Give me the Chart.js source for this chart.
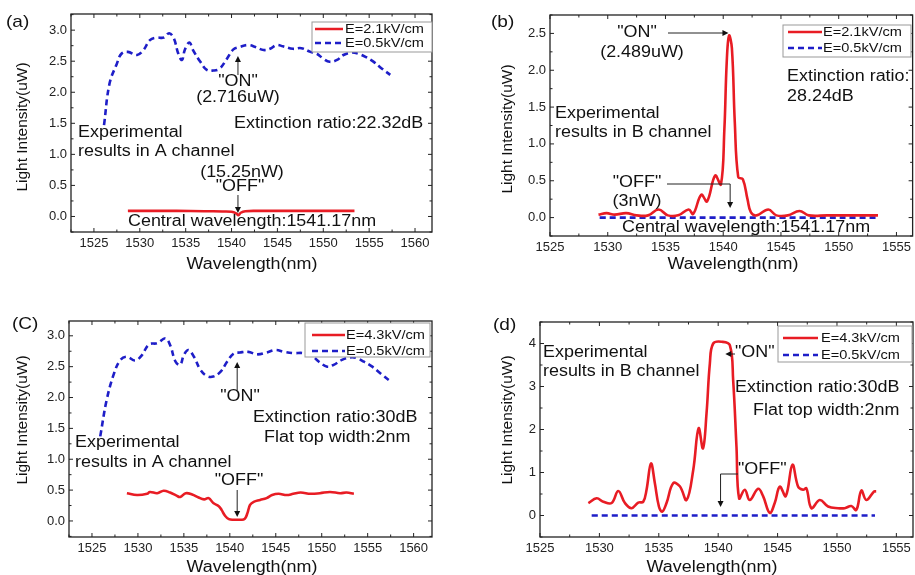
<!DOCTYPE html>
<html>
<head>
<meta charset="utf-8">
<script src="https://cdn.jsdelivr.net/npm/chart.js@4.4.1/dist/chart.umd.min.js"></script>
<style>
  body { margin: 0; background: #fff; overflow: hidden; }
  #wrap { position: relative; width: 915px; height: 575px; background: #fff; }
  .cell { position: absolute; }
</style>
</head>
<body>
<div id="wrap">
  <div class="cell" style="left:0;top:0;width:455px;height:290px"><canvas id="chartA"></canvas></div>
  <div class="cell" style="left:455px;top:0;width:460px;height:290px"><canvas id="chartB"></canvas></div>
  <div class="cell" style="left:0;top:290px;width:455px;height:285px"><canvas id="chartC"></canvas></div>
  <div class="cell" style="left:455px;top:290px;width:460px;height:285px"><canvas id="chartD"></canvas></div>
</div>
<script>
var FONT = '"Liberation Sans", Arial, sans-serif';
var RED = 'rgb(232,28,36)';
var BLUE = 'rgb(30,30,200)';

// tick labels
var xTicksAC = [1525, 1530, 1535, 1540, 1545, 1550, 1555, 1560];
var xTicksBD = [1525, 1530, 1535, 1540, 1545, 1550, 1555];
var yTicksABC = [0, 0.5, 1, 1.5, 2, 2.5, 3];
var yTicksD = [0, 1, 2, 3, 4];

// (a) A channel, E=2.1kV/cm vs E=0.5kV/cm
var aLegend = ['E=2.1kV/cm', 'E=0.5kV/cm'];
var aBlueX = [1526.1, 1526.7, 1527.5, 1528.0, 1528.7, 1529.7, 1530.4, 1531.1, 1531.8, 1532.6, 1533.2, 1533.7, 1534.2, 1534.6, 1534.9, 1535.4, 1535.8, 1536.6, 1537.3, 1538.0, 1538.7, 1539.5, 1540.2, 1540.9, 1541.8, 1542.6, 1543.5, 1544.2, 1544.9, 1545.6, 1546.7, 1547.6, 1548.6, 1549.3, 1550.0, 1550.7, 1551.5, 1552.2, 1553.1, 1553.8, 1554.6, 1555.5, 1556.4, 1557.3];
var aBlueY = [1.47, 2.14, 2.46, 2.62, 2.65, 2.60, 2.68, 2.84, 2.88, 2.88, 2.95, 2.87, 2.62, 2.52, 2.68, 2.80, 2.68, 2.49, 2.36, 2.35, 2.38, 2.54, 2.69, 2.73, 2.76, 2.73, 2.68, 2.70, 2.76, 2.74, 2.70, 2.71, 2.65, 2.62, 2.54, 2.49, 2.52, 2.60, 2.64, 2.62, 2.57, 2.49, 2.38, 2.28];
var aRedX = [1528.7, 1531, 1534, 1537, 1539, 1540.0, 1540.5, 1540.75, 1541.0, 1541.5, 1543, 1546, 1549, 1553.4];
var aRedY = [0.09, 0.09, 0.09, 0.085, 0.08, 0.075, 0.05, 0.02, 0.06, 0.085, 0.09, 0.09, 0.09, 0.09];

// (b) B channel, E=2.1kV/cm vs E=0.5kV/cm
var bLegend = ['E=2.1kV/cm', 'E=0.5kV/cm'];
var bRedX = [1529.2, 1529.9, 1530.6, 1531.6, 1532.5, 1533.5, 1534.4, 1535.2, 1536.1, 1537.0, 1537.4, 1538.1, 1538.6, 1539.3, 1539.8, 1540.1, 1540.3, 1540.5, 1540.75, 1541.0, 1541.3, 1541.7, 1542.1, 1542.4, 1542.9, 1543.9, 1544.6, 1545.6, 1546.6, 1547.4, 1549, 1551, 1553.4];
var bRedY = [0.04, 0.06, 0.04, 0.06, 0.03, 0.03, 0.11, 0.03, 0.03, 0.11, 0.05, 0.31, 0.22, 0.57, 0.45, 1.2, 2.1, 2.47, 2.3, 1.3, 0.55, 0.52, 0.25, 0.07, 0.03, 0.11, 0.03, 0.03, 0.09, 0.03, 0.03, 0.03, 0.03];
var bBlueX = [1529.3, 1535, 1541, 1547, 1553.4];
var bBlueY = [0, 0, 0, 0, 0];

// (c) A channel, E=4.3kV/cm vs E=0.5kV/cm
var cLegend = ['E=4.3kV/cm', 'E=0.5kV/cm'];
var cBlueX = [1525.9, 1526.6, 1527.4, 1528.1, 1528.8, 1529.7, 1530.4, 1531.2, 1532.1, 1533.0, 1533.5, 1534.1, 1534.6, 1535.0, 1535.5, 1536.1, 1536.8, 1537.5, 1538.2, 1539.0, 1539.7, 1540.4, 1541.1, 1542.0, 1543.0, 1544.0, 1545.0, 1545.9, 1546.9, 1548.0, 1548.9, 1549.7, 1550.6, 1551.3, 1552.2, 1553.1, 1553.8, 1554.6, 1555.5, 1556.4, 1557.5];
var cBlueY = [1.37, 1.96, 2.39, 2.61, 2.66, 2.60, 2.68, 2.86, 2.88, 2.96, 2.85, 2.58, 2.53, 2.69, 2.77, 2.66, 2.45, 2.35, 2.34, 2.42, 2.58, 2.71, 2.73, 2.74, 2.70, 2.73, 2.77, 2.74, 2.72, 2.72, 2.68, 2.58, 2.50, 2.53, 2.61, 2.65, 2.64, 2.58, 2.50, 2.39, 2.26];
var cRedX = [1528.8, 1529.9, 1531.0, 1531.3, 1532.1, 1532.8, 1533.5, 1534.2, 1534.6, 1535.2, 1535.9, 1536.6, 1537.2, 1537.7, 1538.2, 1538.8, 1539.1, 1539.5, 1539.9, 1540.4, 1541.1, 1541.6, 1541.9, 1542.2, 1542.6, 1543.3, 1544.0, 1544.6, 1545.3, 1546.2, 1546.9, 1547.7, 1548.8, 1549.8, 1550.9, 1552.0, 1552.7, 1553.5];
var cRedY = [0.45, 0.42, 0.44, 0.47, 0.45, 0.49, 0.46, 0.41, 0.39, 0.45, 0.43, 0.38, 0.35, 0.37, 0.29, 0.24, 0.18, 0.08, 0.03, 0.02, 0.02, 0.03, 0.12, 0.26, 0.31, 0.34, 0.37, 0.42, 0.44, 0.42, 0.44, 0.46, 0.44, 0.45, 0.47, 0.45, 0.46, 0.44];

// (d) B channel, E=4.3kV/cm vs E=0.5kV/cm
var dLegend = ['E=4.3kV/cm', 'E=0.5kV/cm'];
var dRedX = [1529.07, 1529.77, 1530.33, 1531.03, 1531.59, 1532.15, 1532.71, 1533.27, 1533.69, 1533.97, 1534.34, 1534.67, 1535.01, 1535.29, 1535.65, 1536.21, 1536.77, 1537.34, 1537.9, 1538.35, 1538.72, 1539.02, 1539.3, 1539.58, 1540.3, 1540.98, 1541.26, 1541.54, 1541.76, 1542.24, 1542.66, 1543.36, 1543.78, 1544.34, 1544.76, 1545.19, 1545.69, 1546.25, 1546.73, 1547.15, 1547.43, 1547.85, 1548.55, 1549.25, 1550.09, 1550.65, 1551.21, 1551.63, 1552.05, 1552.47, 1553.12, 1553.3];
var dRedY = [0.29, 0.40, 0.32, 0.29, 0.57, 0.29, 0.17, 0.30, 0.32, 0.60, 1.21, 0.75, 0.21, 0.09, 0.29, 0.75, 0.68, 0.36, 1.06, 2.03, 1.56, 2.38, 3.54, 4.0, 4.04, 3.96, 3.15, 1.6, 0.40, 0.6, 0.36, 0.62, 0.45, 0.06, 0.29, 0.67, 0.45, 1.18, 0.67, 0.60, 0.63, 0.17, 0.36, 0.21, 0.17, 0.17, 0.22, 0.13, 0.58, 0.36, 0.56, 0.56];
var dBlueX = [1529.35, 1535, 1541, 1547, 1553.2];
var dBlueY = [0, 0, 0, 0, 0];

function pts(xs, ys) {
    return xs.map(function (x, i) { return { x: x, y: ys[i] }; });
}

function stretchText(ctx, s, x, y, size, align) {
    ctx.save();
    ctx.font = size + 'px ' + FONT;
    ctx.textAlign = align || 'left';
    ctx.textBaseline = 'middle';
    ctx.translate(x, y);
    ctx.scale(1.12, 1);
    ctx.fillText(s, 0, 0);
    ctx.restore();
}

function seg(ctx, x1, y1, x2, y2) {
    ctx.beginPath(); ctx.moveTo(x1, y1); ctx.lineTo(x2, y2); ctx.stroke();
}

function head(ctx, x, y, dir) {
    // dir: 'up', 'down', 'left', 'right'
    var L = 6, W = 3;
    ctx.beginPath();
    if (dir === 'up') { ctx.moveTo(x, y); ctx.lineTo(x - W, y + L); ctx.lineTo(x + W, y + L); }
    if (dir === 'down') { ctx.moveTo(x, y); ctx.lineTo(x - W, y - L); ctx.lineTo(x + W, y - L); }
    if (dir === 'left') { ctx.moveTo(x, y); ctx.lineTo(x + L, y - W); ctx.lineTo(x + L, y + W); }
    if (dir === 'right') { ctx.moveTo(x, y); ctx.lineTo(x - L, y - W); ctx.lineTo(x - L, y + W); }
    ctx.closePath(); ctx.fill();
}

function makePanel(id, p) {
    var deco = {
        id: 'deco',
        afterDraw: function (chart) {
            var ctx = chart.ctx, a = chart.chartArea, xs = chart.scales.x, ys = chart.scales.y;
            ctx.save();
            ctx.strokeStyle = '#222';
            ctx.fillStyle = '#111';
            ctx.lineWidth = 1.3;
            ctx.strokeRect(a.left, a.top, a.right - a.left, a.bottom - a.top);
            ctx.lineWidth = 1;
            // ticks pointing inward on all four sides
            var i, v, px, major, len;
            for (i = Math.ceil(xs.min / p.xMinor); i * p.xMinor <= xs.max; i++) {
                v = i * p.xMinor;
                px = xs.getPixelForValue(v);
                major = Math.abs(v / 5 - Math.round(v / 5)) < 1e-6;
                len = major ? 4 : 2.5;
                seg(ctx, px, a.bottom, px, a.bottom - len);
                seg(ctx, px, a.top, px, a.top + len);
            }
            for (i = Math.ceil(ys.min / p.yMinor); i * p.yMinor <= ys.max; i++) {
                v = i * p.yMinor;
                px = ys.getPixelForValue(v);
                major = Math.abs(v / p.yMajor - Math.round(v / p.yMajor)) < 1e-6;
                len = major ? 4 : 2.5;
                seg(ctx, a.left, px, a.left + len, px);
                seg(ctx, a.right, px, a.right - len, px);
            }

            // panel letter and axis titles
            stretchText(ctx, p.letter, p.letterPos[0], p.letterPos[1], 17, 'left');
            stretchText(ctx, 'Wavelength(nm)', p.xTitle[0], p.xTitle[1], 16, 'center');
            ctx.save();
            ctx.translate(p.yTitle[0], p.yTitle[1]);
            ctx.rotate(-Math.PI / 2);
            ctx.font = '15.5px ' + FONT;
            ctx.textAlign = 'center';
            ctx.textBaseline = 'middle';
            ctx.fillText('Light Intensity(uW)', 0, 0);
            ctx.restore();

            // annotations
            p.notes.forEach(function (n) {
                stretchText(ctx, n[0], n[1], n[2], 16, n[3] || 'left');
            });
            ctx.lineWidth = 1;
            p.arrows.forEach(function (r) {
                var tx = xs.getPixelForValue(r.nm);
                if (r.type === 'v') {
                    seg(ctx, tx, r.y1, tx, r.y2 + (r.y2 < r.y1 ? 4 : -4));
                    head(ctx, tx, r.y2, r.y2 < r.y1 ? 'up' : 'down');
                } else if (r.type === 'h') {
                    var dir = tx < r.x0 ? 'left' : 'right';
                    seg(ctx, r.x0, r.y, tx + (dir === 'left' ? 4 : -4), r.y);
                    head(ctx, tx, r.y, dir);
                } else {
                    seg(ctx, r.x0, r.y0, tx, r.y0);
                    seg(ctx, tx, r.y0, tx, r.y2 - 4);
                    head(ctx, tx, r.y2, 'down');
                }
            });

            // legend box
            var L = p.legend;
            ctx.fillStyle = '#fff';
            ctx.fillRect(L.box[0], L.box[1], L.box[2] - L.box[0], L.box[3] - L.box[1]);
            ctx.strokeStyle = '#999';
            ctx.strokeRect(L.box[0], L.box[1], L.box[2] - L.box[0], L.box[3] - L.box[1]);
            ctx.lineWidth = 2.5;
            ctx.strokeStyle = RED;
            seg(ctx, L.line[0], L.rows[0], L.line[1], L.rows[0]);
            ctx.strokeStyle = BLUE;
            ctx.lineWidth = 2.5;
            ctx.setLineDash([6, 4]);
            seg(ctx, L.line[0], L.rows[1], L.line[1], L.rows[1]);
            ctx.setLineDash([]);
            ctx.fillStyle = '#111';
            stretchText(ctx, L.labels[0], L.textX, L.rows[0], 13, 'left');
            stretchText(ctx, L.labels[1], L.textX, L.rows[1], 13, 'left');
            ctx.restore();
        }
    };

    return new Chart(document.getElementById(id), {
        type: 'line',
        data: {
            datasets: [
                {
                    label: p.legend.labels[0],
                    data: pts(p.redX, p.redY),
                    borderColor: RED,
                    borderWidth: 2.6,
                    pointRadius: 0,
                    tension: 0.4,
                    fill: false
                },
                {
                    label: p.legend.labels[1],
                    data: pts(p.blueX, p.blueY),
                    borderColor: BLUE,
                    borderWidth: 2.6,
                    borderDash: [6, 4],
                    pointRadius: 0,
                    tension: 0.4,
                    fill: false
                }
            ]
        },
        options: {
            responsive: true,
            maintainAspectRatio: false,
            animation: false,
            layout: { padding: { left: 0, bottom: 0, top: p.area.top, right: p.area.right } },
            plugins: { legend: { display: false }, tooltip: { enabled: false } },
            scales: {
                x: {
                    type: 'linear',
                    min: p.xMin, max: p.xMax,
                    afterBuildTicks: function (s) { s.ticks = p.xTicks.map(function (v) { return { value: v }; }); },
                    afterFit: function (s) { s.height = p.area.xH; },
                    ticks: { font: { family: FONT, size: 13 }, color: '#222', padding: 4, callback: function (v) { return String(v); } },
                    grid: { display: false, drawTicks: false },
                    border: { display: false }
                },
                y: {
                    min: p.yMin, max: p.yMax,
                    afterBuildTicks: function (s) { s.ticks = p.yTicks.map(function (v) { return { value: v }; }); },
                    afterFit: function (s) { s.width = p.area.yW; },
                    ticks: { font: { family: FONT, size: 13 }, color: '#222', padding: 4, callback: function (v) { return p.yDigits ? v.toFixed(p.yDigits) : String(v); } },
                    grid: { display: false, drawTicks: false },
                    border: { display: false }
                }
            }
        },
        plugins: [deco]
    });
}

makePanel('chartA', {
    redX: aRedX, redY: aRedY, blueX: aBlueX, blueY: aBlueY,
    xMin: 1522.5, xMax: 1561.85, yMin: -0.25, yMax: 3.26,
    xTicks: xTicksAC, yTicks: yTicksABC, yDigits: 1,
    xMinor: 2.5, yMinor: 0.25, yMajor: 0.5,
    area: { top: 14, right: 23, yW: 71, xH: 58 },
    letter: '(a)', letterPos: [6, 22], xTitle: [252, 265], yTitle: [23, 127],
    notes: [
        ['"ON"', 238, 82, 'center'],
        ['(2.716uW)', 238, 98, 'center'],
        ['Extinction ratio:22.32dB', 234, 124],
        ['Experimental', 78, 133],
        ['results in A channel', 78, 152],
        ['(15.25nW)', 242, 173, 'center'],
        ['"OFF"', 240, 187, 'center'],
        ['Central wavelength:1541.17nm', 128, 222]
    ],
    arrows: [
        { type: 'v', nm: 1540.7, y1: 75, y2: 56 },
        { type: 'v', nm: 1540.7, y1: 195, y2: 213 }
    ],
    legend: { box: [312, 22, 432, 52], rows: [29, 43], line: [315, 343], textX: 345, labels: aLegend }
});

makePanel('chartB', {
    redX: bRedX, redY: bRedY, blueX: bBlueX, blueY: bBlueY,
    xMin: 1525, xMax: 1556.4, yMin: -0.25, yMax: 2.75,
    xTicks: xTicksBD, yTicks: yTicksABC.slice(0, 6), yDigits: 1,
    xMinor: 2.5, yMinor: 0.25, yMajor: 0.5,
    area: { top: 15, right: 2, yW: 95, xH: 54 },
    letter: '(b)', letterPos: [36, 22], xTitle: [278, 265], yTitle: [53, 129],
    notes: [
        ['"ON"', 182, 33, 'center'],
        ['(2.489uW)', 187, 53, 'center'],
        ['Extinction ratio:', 332, 77],
        ['28.24dB', 332, 97],
        ['Experimental', 100, 114],
        ['results in B channel', 100, 133],
        ['"OFF"', 182, 183, 'center'],
        ['(3nW)', 182, 202, 'center'],
        ['Central wavelength:1541.17nm', 167, 228]
    ],
    arrows: [
        { type: 'h', nm: 1540.45, x0: 213, y: 33 },
        { type: 'elbow', nm: 1540.6, x0: 212, y0: 184, y2: 208 }
    ],
    legend: { box: [328, 25, 456, 57], rows: [32, 48], line: [333, 367], textX: 368, labels: bLegend }
});

makePanel('chartC', {
    redX: cRedX, redY: cRedY, blueX: cBlueX, blueY: cBlueY,
    xMin: 1522.5, xMax: 1562, yMin: -0.26, yMax: 3.24,
    xTicks: xTicksAC, yTicks: yTicksABC, yDigits: 1,
    xMinor: 2.5, yMinor: 0.25, yMajor: 0.5,
    area: { top: 31, right: 23, yW: 69, xH: 38 },
    letter: '(C)', letterPos: [12, 34], xTitle: [252, 278], yTitle: [23, 130],
    notes: [
        ['"ON"', 240, 107, 'center'],
        ['Extinction ratio:30dB', 253, 128],
        ['Flat top width:2nm', 264, 148],
        ['Experimental', 75, 153],
        ['results in A channel', 75, 173],
        ['"OFF"', 239, 191, 'center']
    ],
    arrows: [
        { type: 'v', nm: 1540.8, y1: 100, y2: 72 },
        { type: 'v', nm: 1540.8, y1: 200, y2: 227 }
    ],
    legend: { box: [305, 33, 430, 67], rows: [45, 61], line: [312, 345], textX: 346, labels: cLegend }
});

makePanel('chartD', {
    redX: dRedX, redY: dRedY, blueX: dBlueX, blueY: dBlueY,
    xMin: 1525, xMax: 1556.4, yMin: -0.5, yMax: 4.5,
    xTicks: xTicksBD, yTicks: yTicksD, yDigits: 0,
    xMinor: 2.5, yMinor: 0.5, yMajor: 1,
    area: { top: 32, right: 2, yW: 85, xH: 38 },
    letter: '(d)', letterPos: [38, 35], xTitle: [257, 278], yTitle: [53, 130],
    notes: [
        ['Experimental', 88, 63],
        ['results in B channel', 88, 82],
        ['"ON"', 280, 63],
        ['Extinction ratio:30dB', 280, 98],
        ['Flat top width:2nm', 298, 121],
        ['"OFF"', 283, 180]
    ],
    arrows: [
        { type: 'h', nm: 1540.6, x0: 280, y: 64 },
        { type: 'elbow', nm: 1540.2, x0: 283, y0: 184, y2: 217 }
    ],
    legend: { box: [323, 36, 457, 72], rows: [48, 65], line: [328, 363], textX: 366, labels: dLegend }
});
</script>
</body>
</html>
